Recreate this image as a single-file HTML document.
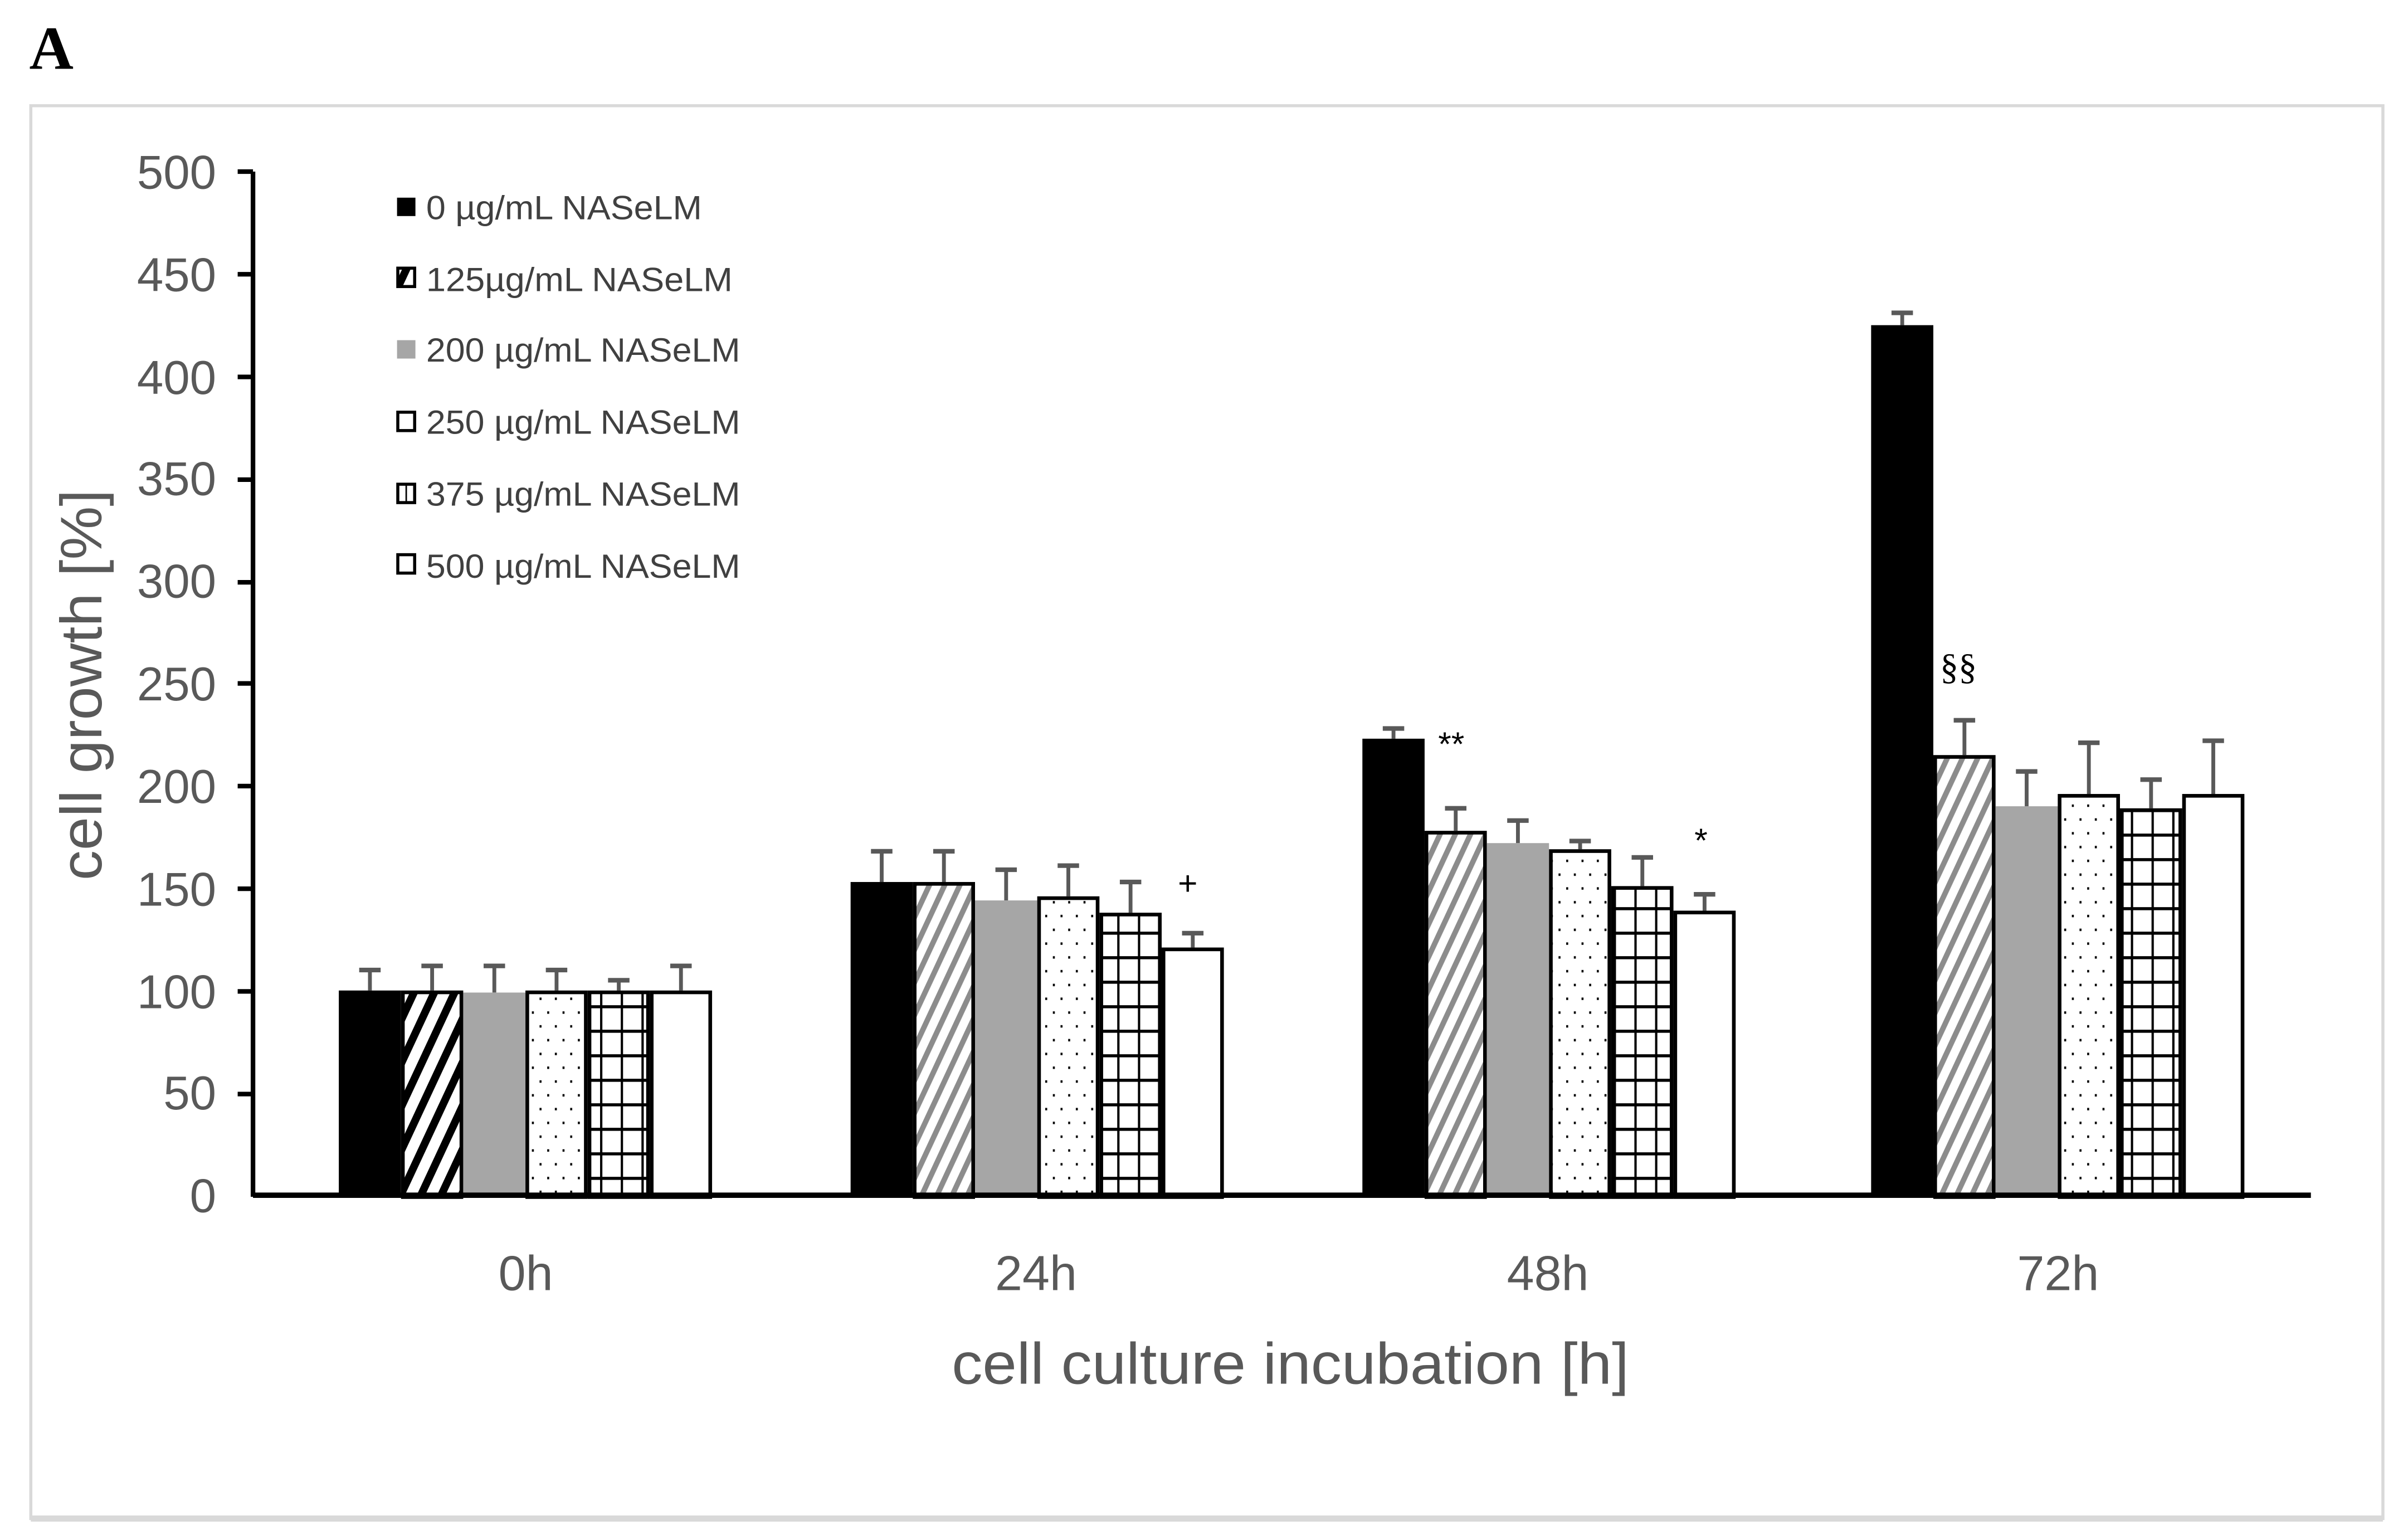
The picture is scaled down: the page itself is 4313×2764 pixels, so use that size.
<!DOCTYPE html>
<html><head><meta charset="utf-8"><style>html,body{margin:0;padding:0;background:#fff}svg{display:block}</style></head>
<body>
<svg width="4313" height="2764" viewBox="0 0 1568 1005" xmlns="http://www.w3.org/2000/svg" font-family="'Liberation Sans', sans-serif">
<defs>
<pattern id="hb" width="12" height="12" patternUnits="userSpaceOnUse" patternTransform="rotate(25)">
<rect width="12" height="12" fill="#fff"/><rect width="5" height="12" fill="#000"/></pattern>
<pattern id="hg" width="9" height="9" patternUnits="userSpaceOnUse" patternTransform="rotate(25)">
<rect width="9" height="9" fill="#fff"/><rect width="3.5" height="9" fill="#8c8c8c"/></pattern>
<pattern id="dt" width="10" height="18" patternUnits="userSpaceOnUse">
<rect width="10" height="18" fill="#fff"/><rect x="2" y="3" width="1.3" height="1.6" fill="#000"/><rect x="7" y="12" width="1.3" height="1.6" fill="#000"/></pattern>
<pattern id="gr" width="13.5" height="16" patternUnits="userSpaceOnUse">
<rect width="13.5" height="16" fill="#fff"/><rect x="0" y="0" width="1.5" height="16" fill="#000"/><rect x="0" y="0" width="13.5" height="2" fill="#000"/></pattern>
</defs>
<rect width="1568" height="1005" fill="#fff"/>
<text x="19" y="45" font-family="'Liberation Serif', serif" font-weight="bold" font-size="40">A</text>
<rect x="20" y="69" width="1535" height="922" fill="none" stroke="#d9d9d9" stroke-width="2"/>
<rect x="20" y="989" width="1535" height="4" fill="#d9d9d9"/>
<g fill="#595959" font-size="31" text-anchor="end">
<text x="141" y="123">500</text><text x="141" y="190">450</text><text x="141" y="257">400</text>
<text x="141" y="323">350</text><text x="141" y="390">300</text><text x="141" y="457">250</text>
<text x="141" y="524">200</text><text x="141" y="591">150</text><text x="141" y="658">100</text>
<text x="141" y="724">50</text><text x="141" y="791">0</text>
</g>
<text transform="translate(66,447) rotate(-90)" fill="#595959" font-size="38" text-anchor="middle" textLength="255" lengthAdjust="spacingAndGlyphs">cell growth [%]</text>
<g fill="#595959" font-size="32" text-anchor="middle">
<text x="343" y="842">0h</text><text x="676" y="842">24h</text><text x="1010" y="842">48h</text><text x="1343" y="842">72h</text>
</g>
<text x="842" y="903" fill="#595959" font-size="38" text-anchor="middle" textLength="442" lengthAdjust="spacingAndGlyphs">cell culture incubation [h]</text>
<g id="bars"></g>
<g stroke="#000" stroke-width="3">
<line x1="165" y1="112" x2="165" y2="781"/>
<line x1="155" y1="112" x2="165" y2="112"/><line x1="155" y1="179" x2="165" y2="179"/><line x1="155" y1="246" x2="165" y2="246"/>
<line x1="155" y1="313" x2="165" y2="313"/><line x1="155" y1="380" x2="165" y2="380"/><line x1="155" y1="446" x2="165" y2="446"/>
<line x1="155" y1="513" x2="165" y2="513"/><line x1="155" y1="580" x2="165" y2="580"/><line x1="155" y1="647" x2="165" y2="647"/>
<line x1="155" y1="714" x2="165" y2="714"/>
</g>
<g font-size="22" fill="#404040">
<rect x="259" y="129" width="12" height="12" fill="#000"/><text x="278" y="143" textLength="180" lengthAdjust="spacingAndGlyphs">0 µg/mL NASeLM</text>
<rect x="259.5" y="175" width="11" height="12" fill="url(#hb)" stroke="#000" stroke-width="2"/><text x="278" y="190" textLength="200" lengthAdjust="spacingAndGlyphs">125µg/mL NASeLM</text>
<rect x="259" y="222" width="12" height="12" fill="#a6a6a6"/><text x="278" y="236" textLength="205" lengthAdjust="spacingAndGlyphs">200 µg/mL NASeLM</text>
<rect x="259.5" y="269" width="11" height="12" fill="#fff" stroke="#000" stroke-width="2"/><text x="278" y="283" textLength="205" lengthAdjust="spacingAndGlyphs">250 µg/mL NASeLM</text>
<rect x="259.5" y="316" width="11" height="12" fill="#fff" stroke="#000" stroke-width="2"/><line x1="265" y1="316" x2="265" y2="328" stroke="#000"/><text x="278" y="330" textLength="205" lengthAdjust="spacingAndGlyphs">375 µg/mL NASeLM</text>
<rect x="259.5" y="362" width="11" height="12" fill="#fff" stroke="#000" stroke-width="2"/><text x="278" y="377" textLength="205" lengthAdjust="spacingAndGlyphs">500 µg/mL NASeLM</text>
</g>
<script>
(function(){
var ns="http://www.w3.org/2000/svg",g=document.getElementById("bars");
var y0=780,k=668/500;
var vals=[[100,100,99,100,100,100],[153,153,144,146,138,121],[223,178,172,169,151,139],[425,215,190,196,189,196]];
var errs=[[110,112,112,110,105,112],[168,168,159,161,153,128],[228,189,183,173,165,147],[431,232,207,221,203,222]];
var starts=[221,555,889,1221],w=40.6;
function el(n,a){var e=document.createElementNS(ns,n);for(var i in a)e.setAttribute(i,a[i]);g.appendChild(e);return e;}
for(var c=0;c<4;c++){for(var s=0;s<6;s++){
var x=starts[c]+s*w,y=y0-vals[c][s]*k,h=vals[c][s]*k;
var ey=y0-errs[c][s]*k,cx=x+w/2;
el("line",{x1:cx,y1:y,x2:cx,y2:ey,stroke:"#595959","stroke-width":2.5});
el("line",{x1:cx-7,y1:ey,x2:cx+7,y2:ey,stroke:"#595959","stroke-width":3});
if(s==0)el("rect",{x:x,y:y,width:w,height:h,fill:"#000"});
else if(s==2)el("rect",{x:x,y:y,width:w,height:h,fill:"#a6a6a6"});
else{var f=s==1?(c==0?"url(#hb)":"url(#hg)"):s==3?"url(#dt)":s==4?"url(#gr)":"#fff";
el("rect",{x:x+1.2,y:y+1.2,width:w-2.4,height:h,fill:f,stroke:"#000","stroke-width":2.4});}
}}
})();
</script>
<line x1="165" y1="780" x2="1508" y2="780" stroke="#000" stroke-width="3.5"/>
<g font-size="22" fill="#000" text-anchor="middle">
<text x="947" y="493">**</text><text x="1110" y="556">*</text><text x="775" y="584">+</text>
</g>
<text x="1278" y="443" font-family="'Liberation Serif', serif" font-size="24" text-anchor="middle">§§</text>
</svg>
</body></html>
